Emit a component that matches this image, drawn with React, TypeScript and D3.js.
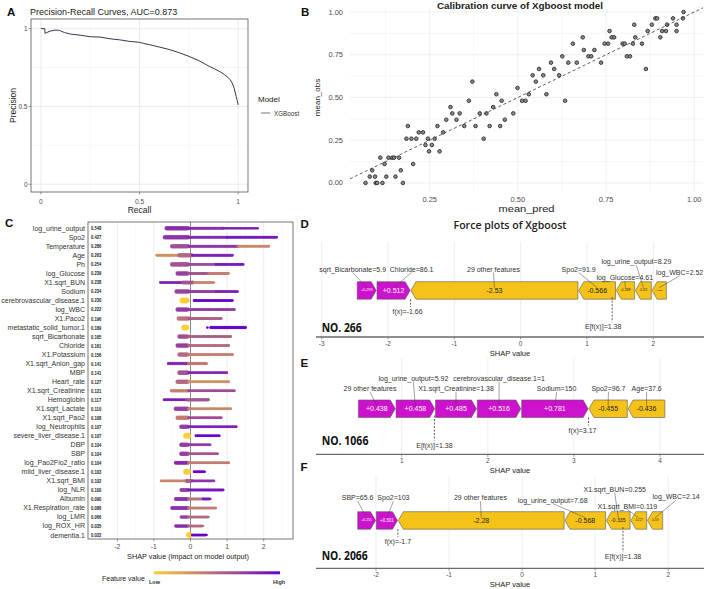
import React from "react";
import * as d3 from "d3";

const FONT = "'Liberation Sans', Arial, Helvetica, sans-serif";
const FONT_TITLE = "'Open Sans', 'Noto Sans', sans-serif";

// ---------- Panel A: precision-recall ----------
const prRecall = [0, 0.02, 0.021, 0.03, 0.05, 0.07, 0.09, 0.1, 0.12, 0.15, 0.2, 0.25, 0.3, 0.35, 0.4, 0.45, 0.5, 0.52, 0.55, 0.6, 0.65, 0.7, 0.75, 0.8, 0.85, 0.88, 0.91, 0.93, 0.95, 0.96, 0.97, 0.98, 0.99, 0.995, 1.0];
const prPrecision = [1, 1, 0.97, 0.975, 0.985, 0.99, 0.99, 0.985, 0.975, 0.965, 0.958, 0.948, 0.946, 0.935, 0.928, 0.918, 0.912, 0.905, 0.897, 0.882, 0.866, 0.846, 0.822, 0.795, 0.76, 0.742, 0.722, 0.705, 0.685, 0.671, 0.65, 0.617, 0.563, 0.54, 0.51];
const prTicks = [0, 0.5, 1];
const prTickLabels = ["0", "0.5", "1"];
const prMinor = [0.25, 0.75];

// ---------- Panel B: calibration ----------
const calPred = [0.068, 0.097, 0.101, 0.116, 0.174, 0.08, 0.095, 0.127, 0.153, 0.087, 0.168, 0.122, 0.203, 0.11, 0.133, 0.144, 0.149, 0.163, 0.248, 0.278, 0.238, 0.256, 0.184, 0.198, 0.212, 0.245, 0.264, 0.403, 0.219, 0.231, 0.288, 0.188, 0.272, 0.348, 0.38, 0.42, 0.45, 0.297, 0.326, 0.463, 0.314, 0.335, 0.392, 0.411, 0.487, 0.309, 0.43, 0.361, 0.454, 0.512, 0.522, 0.634, 0.439, 0.531, 0.581, 0.499, 0.371, 0.551, 0.542, 0.572, 0.617, 0.56, 0.603, 0.863, 0.594, 0.643, 0.667, 0.736, 0.626, 0.7, 0.708, 0.809, 0.818, 0.687, 0.717, 0.656, 0.746, 0.756, 0.797, 0.803, 0.826, 0.852, 0.684, 0.766, 0.773, 0.833, 0.904, 0.76, 0.868, 0.909, 0.92, 0.95, 0.83, 0.88, 0.923, 0.95, 0.89, 0.895, 0.94, 0.968, 0.97];
const calObs = [0, 0, 0, 0, 0, 0.037, 0.037, 0.037, 0.037, 0.074, 0.074, 0.111, 0.111, 0.148, 0.148, 0.148, 0.148, 0.148, 0.185, 0.185, 0.222, 0.222, 0.259, 0.259, 0.259, 0.259, 0.259, 0.259, 0.296, 0.296, 0.296, 0.333, 0.333, 0.333, 0.333, 0.333, 0.333, 0.37, 0.37, 0.37, 0.407, 0.407, 0.407, 0.407, 0.407, 0.444, 0.444, 0.481, 0.481, 0.481, 0.481, 0.481, 0.519, 0.519, 0.519, 0.556, 0.593, 0.593, 0.63, 0.63, 0.63, 0.667, 0.667, 0.667, 0.704, 0.704, 0.704, 0.704, 0.741, 0.741, 0.741, 0.741, 0.741, 0.778, 0.778, 0.815, 0.815, 0.815, 0.815, 0.815, 0.815, 0.815, 0.852, 0.852, 0.852, 0.852, 0.852, 0.889, 0.889, 0.889, 0.889, 0.889, 0.926, 0.926, 0.926, 0.926, 0.963, 0.963, 0.963, 0.963, 1.0];
const calYTicks = [0, 0.25, 0.5, 0.75, 1];
const calYLabels = ["0.00", "0.25", "0.50", "0.75", "1.00"];
const calXTicks = [0.25, 0.5, 0.75, 1];
const calXLabels = ["0.25", "0.50", "0.75", "1.00"];

// ---------- Panel C: SHAP summary ----------
const shapFeatures = ["log_urine_output", "Spo2", "Temperature", "Age", "Ph", "log_Glucose", "X1.sqrt_BUN", "Sodium", "cerebrovascular_disease.1", "log_WBC", "X1.Paco2", "metastatic_solid_tumor.1", "sqrt_Bicarbonate", "Chloride", "X1.Potassium", "X1.sqrt_Anion_gap", "MBP", "Heart_rate", "X1.sqrt_Creatinine", "Hemoglobin", "X1.sqrt_Lactate", "X1.sqrt_Pao2", "log_Neutrophils", "severe_liver_disease.1", "DBP", "SBP", "log_Pao2Fio2_ratio", "mild_liver_disease.1", "X1.sqrt_BMI", "log_NLR", "Albumin", "X1.Respiration_rate", "log_LMR", "log_ROX_HR", "dementia.1"];
const shapImportance = ["0.548", "0.427", "0.286", "0.263", "0.254", "0.239", "0.238", "0.234", "0.230", "0.222", "0.196", "0.189", "0.165", "0.161", "0.156", "0.141", "0.141", "0.127", "0.121", "0.117", "0.110", "0.108", "0.107", "0.107", "0.104", "0.104", "0.104", "0.103", "0.102", "0.100", "0.090", "0.086", "0.066", "0.035", "0.022"];
// each run of points: [shap from, shap to, feature value (0 low - 1 high), density]
const shapSegments: number[][][] = [
  [[-0.65, -0.05, 0.78, 0.67], [-0.05, 0.9, 0.8, 0.33], [0.9, 1.85, 0.88, 0.22]],
  [[-0.7, -0.05, 0.75, 0.67], [-0.05, 1.0, 0.82, 0.33], [1.0, 2.35, 0.9, 0.33]],
  [[-0.5, -0.05, 0.62, 0.67], [-0.05, 1.3, 0.75, 0.33], [1.3, 2.15, 0.35, 0.33]],
  [[-0.92, -0.3, 0.3, 0.33], [-0.3, 0.05, 0.5, 0.67], [0.05, 1.15, 0.85, 0.33]],
  [[-0.5, -0.05, 0.6, 0.67], [-0.05, 0.7, 0.65, 0.33], [0.7, 1.45, 0.9, 0.33]],
  [[-0.35, -0.05, 0.7, 0.67], [-0.05, 0.5, 0.6, 0.33], [0.5, 1.05, 0.4, 0.33]],
  [[-0.82, -0.2, 0.82, 0.33], [-0.2, 0.1, 0.6, 0.56], [0.1, 0.65, 0.35, 0.33]],
  [[-0.38, -0.05, 0.68, 0.67], [-0.05, 0.7, 0.72, 0.33], [0.7, 1.3, 0.85, 0.33]],
  [[-0.22, -0.08, 0, 1], [0.1, 1.15, 1, 0.33]],
  [[-0.35, -0.05, 0.72, 0.67], [-0.05, 1.2, 0.72, 0.33]],
  [[-0.32, -0.05, 0.45, 0.67], [-0.05, 0.85, 0.55, 0.33]],
  [[-0.17, -0.1, 0, 1], [0.46, 0.47, 1, 0.22], [0.56, 1.5, 1, 0.44]],
  [[-0.3, -0.05, 0.62, 0.67], [-0.05, 1.1, 0.55, 0.33]],
  [[-0.35, -0.05, 0.7, 0.67], [-0.05, 1.05, 0.5, 0.33]],
  [[-0.3, -0.05, 0.5, 0.67], [-0.05, 1.15, 0.38, 0.33]],
  [[-0.6, -0.05, 0.8, 0.44], [-0.05, 0.45, 0.42, 0.44]],
  [[-0.3, -0.05, 0.6, 0.67], [-0.05, 1.0, 0.8, 0.33]],
  [[-0.35, -0.05, 0.5, 0.67], [-0.05, 1.05, 0.3, 0.33]],
  [[-0.52, -0.05, 0.38, 0.44], [-0.05, 1.2, 0.65, 0.33]],
  [[-0.72, -0.1, 0.88, 0.33], [-0.1, 0.5, 0.6, 0.44]],
  [[-0.4, -0.05, 0.7, 0.67], [-0.05, 1.1, 0.35, 0.33]],
  [[-0.35, -0.05, 0.4, 0.67], [-0.05, 0.85, 0.65, 0.33]],
  [[-0.25, -0.05, 0.7, 0.67], [-0.05, 1.25, 0.85, 0.33]],
  [[-0.12, -0.06, 0, 1], [0.15, 0.8, 1, 0.33]],
  [[-0.25, -0.05, 0.7, 0.67], [-0.05, 0.55, 0.72, 0.33]],
  [[-0.25, -0.05, 0.7, 0.67], [-0.05, 0.75, 0.6, 0.33]],
  [[-0.4, -0.05, 0.8, 0.56], [-0.05, 1.05, 0.4, 0.33]],
  [[-0.12, -0.06, 0, 1], [0.1, 0.4, 1, 0.33]],
  [[-0.8, -0.1, 0.35, 0.33], [-0.1, 0.05, 0.55, 0.56], [0.05, 0.65, 0.75, 0.33]],
  [[-0.25, -0.05, 0.7, 0.56], [-0.05, 0.9, 0.9, 0.33]],
  [[-0.4, -0.05, 0.75, 0.56], [-0.05, 0.35, 0.45, 0.33], [0.35, 0.55, 0.9, 0.33]],
  [[-0.5, -0.05, 0.75, 0.56], [-0.05, 0.7, 0.4, 0.33]],
  [[-0.25, -0.05, 0.7, 0.44], [-0.05, 0.5, 0.5, 0.33]],
  [[-0.4, -0.05, 0.8, 0.44], [-0.05, 0.35, 0.5, 0.33]],
  [[-0.04, 0.0, 0, 1], [0.05, 0.45, 1, 0.33]],
];
const shapTicks = [-2, -1, 0, 1, 2];
const shapMinor = [-2.5, -1.5, -0.5, 0.5, 1.5, 2.5];

// ---------- Panels D/E/F: force plots ----------
const dFeatures = ["sqrt_Bicarbonate=5.9", "Chloride=86.1", "29 other features", "Spo2=91.9", "log_Glucose=4.61", "log_urine_output=8.29", "log_WBC=2.52"];
const dShap = [0.299, 0.512, -2.53, -0.566, -0.288, -0.252, -0.227];
const dFx = -1.66;
const dBase = 1.38;
const dTicks = [-3, -2, -1, 0, 1, 2];

const eFeatures = ["29 other features", "log_urine_output=5.92", "X1.sqrt_Creatinine=1.38", "cerebrovascular_disease.1=1", "Sodium=150", "Spo2=96.7", "Age=37.6"];
const eShap = [0.438, 0.458, 0.485, 0.516, 0.781, -0.455, -0.436];
const eFx = 3.17;
const eBase = 1.38;
const eTicks = [1, 2, 3, 4];

const fFeatures = ["SBP=65.6", "Spo2=103", "29 other features", "log_urine_output=7.68", "X1.sqrt_BUN=0.255", "X1.sqrt_BMI=0.119", "log_WBC=2.14"];
const fShap = [0.255, 0.301, -2.28, -0.568, -0.335, -0.227, -0.219];
const fFx = -1.7;
const fBase = 1.38;
const fTicks = [-2, -1, 0, 1, 2];

// label placement (pixel nudges relative to each bar: [dx, dy from bar top])
const dNudge = [[-14, -12.7], [18, -12.7], [-1, -12.7], [-18.5, -12.7], [-0.7, -4.2], [-7, -20], [20.4, -9.4]];
const eNudge = [[-6.8, -11.7], [-2, -21.7], [0, -11.7], [0, -21.7], [1.7, -11.7], [0.3, -11.7], [0.2, -11.7]];
const fNudge = [[-9, -14], [6.5, -14], [-0.8, -14], [-32.6, -11.7], [-3.5, -22.4], [-11.5, -5.5], [21, -15]];

const lowColor = "#FFCC33";
const highColor = "#6600CC";
const MAGENTA = "#CC12CC";
const YELLOW = "#F4C218";

function PanelA() {
  const x = d3.scaleLinear().domain([-0.05, 1.05]).range([31, 248]);
  const y = d3.scaleLinear().domain([-0.05, 1.062]).range([192, 19]);
  const line = d3.line<number>().x((_, i) => x(prRecall[i])).y((p) => y(p));
  const curveColor = "#3e3352";
  return (
    <g fontFamily={FONT}>
      <text x={7} y={16} fontSize={11.5} fontWeight="bold" fill="#111">A</text>
      <text x={30} y={15} fontSize={9} fill="#222">Precision-Recall Curves, AUC=0.873</text>
      <rect x={31} y={19} width={217} height={173} fill="#fff" />
      {prMinor.map((t) => (
        <g key={"m" + t}>
          <line x1={x(t)} x2={x(t)} y1={19} y2={192} stroke="#f0f0f0" strokeWidth={0.5} />
          <line x1={31} x2={248} y1={y(t)} y2={y(t)} stroke="#f0f0f0" strokeWidth={0.5} />
        </g>
      ))}
      {prTicks.map((t) => (
        <g key={"M" + t}>
          <line x1={x(t)} x2={x(t)} y1={19} y2={192} stroke="#e6e6e6" strokeWidth={0.8} />
          <line x1={31} x2={248} y1={y(t)} y2={y(t)} stroke="#e6e6e6" strokeWidth={0.8} />
        </g>
      ))}
      <path d={line(prPrecision) || ""} fill="none" stroke={curveColor} strokeWidth={1} />
      <rect x={31} y={19} width={217} height={173} fill="none" stroke="#555" strokeWidth={0.8} />
      {prTicks.map((t, i) => (
        <g key={"t" + t} fontSize={6.5} fill="#4d4d4d">
          <line x1={x(t)} x2={x(t)} y1={192} y2={194.5} stroke="#555" strokeWidth={0.6} />
          <text x={x(t)} y={201.5} textAnchor="middle" dominantBaseline="central">{prTickLabels[i]}</text>
          <line x1={28.5} x2={31} y1={y(t)} y2={y(t)} stroke="#555" strokeWidth={0.6} />
          <text x={27.5} y={y(t)} textAnchor="end" dominantBaseline="central">{prTickLabels[i]}</text>
        </g>
      ))}
      <text x={139.5} y={210} fontSize={8.5} textAnchor="middle" dominantBaseline="central" fill="#222">Recall</text>
      <text transform="translate(13.3,105.5) rotate(-90)" fontSize={8.5} textAnchor="middle" dominantBaseline="central" fill="#222">Precision</text>
      <text x={258} y={99} fontSize={8} dominantBaseline="central" fill="#222">Model</text>
      <line x1={261} x2={270} y1={113} y2={113} stroke="#7b6f8e" strokeWidth={1} />
      <text x={274} y={113} fontSize={6.3} dominantBaseline="central" fill="#333">XGBoost</text>
    </g>
  );
}

function PanelB() {
  const x = d3.scaleLinear().domain([0.024, 1.025]).range([350, 703]);
  const y = d3.scaleLinear().domain([-0.05, 1.05]).range([191.5, 3.5]);
  const gridX = d3.range(1, 9).map((i) => i * 0.125);
  const gridY = d3.range(0, 9).map((i) => i * 0.125);
  const top = 8;
  return (
    <g fontFamily={FONT}>
      <text x={301} y={16} fontSize={11.5} fontWeight="bold" fill="#111">B</text>
      <text x={520} y={5.5} fontSize={8.5} fontWeight="bold" textAnchor="middle" dominantBaseline="central" textLength={166} lengthAdjust="spacingAndGlyphs" fill="#222">Calibration curve of Xgboost model</text>
      {gridX.map((t, i) => (
        <line key={"gx" + i} x1={x(t)} x2={x(t)} y1={top} y2={191.5} stroke="#ebebeb" strokeWidth={i % 2 === 1 ? 0.8 : 0.45} />
      ))}
      {gridY.map((t, i) => (
        <line key={"gy" + i} x1={350} x2={703} y1={y(t)} y2={y(t)} stroke="#ebebeb" strokeWidth={i % 2 === 0 ? 0.8 : 0.45} />
      ))}
      {calPred.map((p, i) => (
        <circle key={"pt" + i} cx={x(p)} cy={y(calObs[i])} r={1.8} fill="#8c8c8c" stroke="#2a2a2a" strokeWidth={0.9} />
      ))}
      <line x1={x(0.024)} y1={y(0.024)} x2={x(1.025)} y2={y(1.025)} stroke="#333" strokeWidth={0.8} strokeDasharray="3,2.5" />
      {calYTicks.map((t, i) => (
        <text key={"yl" + t} x={343} y={y(t)} fontSize={7.5} textAnchor="end" dominantBaseline="central" fill="#4d4d4d">{calYLabels[i]}</text>
      ))}
      {calXTicks.map((t, i) => (
        <text key={"xl" + t} x={x(t)} y={199} fontSize={7.5} textAnchor="middle" dominantBaseline="central" fill="#4d4d4d">{calXLabels[i]}</text>
      ))}
      <text x={526.5} y={208} fontSize={9.5} textAnchor="middle" dominantBaseline="central" textLength={56} lengthAdjust="spacingAndGlyphs" fill="#222">mean_pred</text>
      <text transform="translate(317,97.5) rotate(-90)" fontSize={8} textAnchor="middle" dominantBaseline="central" fill="#222">mean_obs</text>
    </g>
  );
}

function PanelC() {
  const x = d3.scaleLinear().domain([-2.8, 2.8]).range([88, 293]);
  const y = d3.scalePoint<string>().domain(shapFeatures).range([228.3, 535]);
  const color = d3.scaleLinear<string>().domain([0, 1]).range([lowColor, highColor]).interpolate(d3.interpolateRgb);
  return (
    <g fontFamily={FONT}>
      <defs>
        <linearGradient id="fvgrad" x1="0" x2="1" y1="0" y2="0">
          <stop offset="0" stopColor={lowColor} />
          <stop offset="1" stopColor={highColor} />
        </linearGradient>
      </defs>
      <text x={5} y={227} fontSize={11.5} fontWeight="bold" fill="#111">C</text>
      <rect x={88} y={222} width={205} height={317} fill="#fff" />
      {shapMinor.map((t) => (
        <line key={"mn" + t} x1={x(t)} x2={x(t)} y1={222} y2={539} stroke="#f0f0f0" strokeWidth={0.5} />
      ))}
      {shapTicks.map((t) => (
        <line key={"mj" + t} x1={x(t)} x2={x(t)} y1={222} y2={539} stroke="#e8e8e8" strokeWidth={0.8} />
      ))}
      <line x1={x(0)} x2={x(0)} y1={222} y2={539} stroke="#8a8a8a" strokeWidth={1} />
      {shapSegments.map((row, i) =>
        row.map(([a, b, c, d], j) => {
          const yy = y(shapFeatures[i]) as number;
          const w = 1.5 + 4.5 * d;
          return (
            <g key={i + "-" + j}>
              <line x1={x(a)} x2={x(b)} y1={yy} y2={yy} stroke={color(c)} strokeWidth={w * 0.7} strokeLinecap="round" opacity={0.9} />
              <line x1={x(a)} x2={x(b)} y1={yy} y2={yy} stroke={color(c)} strokeWidth={w} strokeLinecap="round" strokeDasharray="0,1.9" opacity={0.9} />
            </g>
          );
        })
      )}
      {shapFeatures.map((f, i) => (
        <g key={"lab" + f}>
          <text x={85} y={y(f)} fontSize={7} textAnchor="end" dominantBaseline="central" fill="#333">{f}</text>
          <text x={91} y={y(f)} fontSize={5.6} fontWeight="bold" dominantBaseline="central" fill="#222" textLength={10.3} lengthAdjust="spacingAndGlyphs">{shapImportance[i]}</text>
        </g>
      ))}
      <rect x={88} y={222} width={205} height={317} fill="none" stroke="#555" strokeWidth={0.8} />
      {shapTicks.map((t) => (
        <g key={"tk" + t}>
          <line x1={x(t)} x2={x(t)} y1={539} y2={541.5} stroke="#555" strokeWidth={0.6} />
          <text x={x(t)} y={546.7} fontSize={6.8} textAnchor="middle" dominantBaseline="central" fill="#4d4d4d">{String(t)}</text>
        </g>
      ))}
      <text x={188} y={556} fontSize={7.3} textAnchor="middle" dominantBaseline="central" fill="#222">SHAP value (impact on model output)</text>
      <text x={102} y={578} fontSize={7} dominantBaseline="central" fill="#222">Feature value</text>
      <rect x={154} y={571.3} width={126} height={3} fill="url(#fvgrad)" />
      <text x={149} y={581.7} fontSize={5.5} fontWeight="bold" dominantBaseline="central" fill="#333">Low</text>
      <text x={273} y={581.7} fontSize={5.5} fontWeight="bold" dominantBaseline="central" fill="#333">High</text>
    </g>
  );
}

type FP = {
  letter: string; letterY: number;
  features: string[]; shap: number[]; fx: number; base: number;
  domain: [number, number]; range: [number, number]; ticks: number[];
  barTop: number; gridTop: number; axisY: number;
  nudge: number[][]; caseLabel: string; caseY: number; caseWidth: number;
  fxDx: number; baseDx: number;
};

function ForcePlot(p: FP) {
  const x = d3.scaleLinear().domain(p.domain).range(p.range);
  const barH = 17.5;
  const head = 5;
  const top = p.barTop;
  const bottom = top + barH;
  const mid = top + barH / 2;
  let cursor = p.fx - d3.sum(p.shap.filter((v) => v > 0));
  const bars = p.shap.map((v) => {
    const s = cursor;
    const e = cursor + Math.abs(v);
    cursor = e;
    const x0 = x(s) + 0.4;
    const x1 = x(e) - 0.4;
    const pts = v > 0
      ? [[x0, top], [x1 - head, top], [x1, mid], [x1 - head, bottom], [x0, bottom]]
      : [[x0, mid], [x0 + head, top], [x1, top], [x1, bottom], [x0 + head, bottom]];
    const txt = (v > 0 ? "+" : "") + String(v);
    const fs = Math.min(7, (x1 - x0 - head - 2) / (txt.length * 0.53));
    return { v, x0, x1, cx: (x0 + x1) / 2, pts, txt, fs };
  });
  const xfx = x(p.fx);
  const xb = x(p.base);
  return (
    <g fontFamily={FONT}>
      <text x={300.5} y={p.letterY} fontSize={11.5} fontWeight="bold" fill="#111">{p.letter}</text>
      {p.ticks.map((t) => (
        <line key={"g" + t} x1={x(t)} x2={x(t)} y1={p.gridTop} y2={p.axisY} stroke="#e6e6e6" strokeWidth={0.7} />
      ))}
      {bars.map((b, i) => (
        <g key={"b" + i}>
          <polygon points={b.pts.map((q) => q.join(",")).join(" ")} fill={b.v > 0 ? MAGENTA : YELLOW} stroke="#595959" strokeWidth={0.6} />
          <text x={b.cx} y={mid} fontSize={b.fs} textAnchor="middle" dominantBaseline="central" fill={b.v > 0 ? "#fff" : "#222"}>{b.txt}</text>
        </g>
      ))}
      {bars.map((b, i) => {
        const lx = b.cx + p.nudge[i][0];
        const ly = top + p.nudge[i][1];
        return (
          <g key={"l" + i}>
            <line x1={lx} y1={ly + 3.5} x2={b.cx} y2={top + 6} stroke="#444" strokeWidth={0.5} />
            <text x={lx} y={ly} fontSize={7} textAnchor="middle" dominantBaseline="central" fill="#333">{p.features[i]}</text>
          </g>
        );
      })}
      <line x1={xfx} x2={xfx} y1={bottom} y2={bottom + 8} stroke="#333" strokeWidth={0.8} strokeDasharray="2,1.5" />
      <text x={xfx + p.fxDx} y={bottom + 12.6} fontSize={7} textAnchor="middle" dominantBaseline="central" fill="#333">{"f(x)=" + p.fx}</text>
      <line x1={xb} x2={xb} y1={bottom - 2} y2={bottom + 23} stroke="#333" strokeWidth={0.8} strokeDasharray="2,1.5" />
      <text x={xb + p.baseDx} y={bottom + 27.6} fontSize={7} textAnchor="middle" dominantBaseline="central" fill="#333">{"E[f(x)]=" + p.base}</text>
      <text x={321.7} y={p.caseY} fontSize={13} fontWeight="bold" fontFamily={FONT_TITLE} dominantBaseline="central" textLength={p.caseWidth} lengthAdjust="spacingAndGlyphs" fill="#111">{p.caseLabel}</text>
      <line x1={316} x2={704} y1={p.axisY} y2={p.axisY} stroke="#6b6b6b" strokeWidth={1.3} />
      {p.ticks.map((t) => (
        <g key={"t" + t}>
          <line x1={x(t)} x2={x(t)} y1={p.axisY} y2={p.axisY + 2.5} stroke="#6b6b6b" strokeWidth={0.7} />
          <text x={x(t)} y={p.axisY + 6.5} fontSize={6.5} textAnchor="middle" dominantBaseline="central" fill="#4d4d4d">{String(t)}</text>
        </g>
      ))}
      <text x={510} y={p.axisY + 16.5} fontSize={7.5} textAnchor="middle" dominantBaseline="central" fill="#222">SHAP value</text>
    </g>
  );
}

export default function App() {
  return (
    <svg width={708} height={589} viewBox="0 0 708 589" style={{ position: "absolute", left: 0, top: 0, display: "block", background: "#fff" }}>
      <rect x={0} y={0} width={708} height={589} fill="#fff" />
      <PanelA />
      <PanelB />
      <PanelC />
      <text x={510} y={224.5} fontSize={11.5} fontWeight={600} fontFamily={FONT_TITLE} textAnchor="middle" dominantBaseline="central" textLength={113} lengthAdjust="spacingAndGlyphs" fill="#222">Force plots of Xgboost</text>
      <ForcePlot letter="D" letterY={228} features={dFeatures} shap={dShap} fx={dFx} base={dBase}
        domain={[-3, 2]} range={[321.7, 653.3]} ticks={dTicks} barTop={281.7} gridTop={242} axisY={337}
        nudge={dNudge} caseLabel="NO. 266" caseY={326.7} caseWidth={40} fxDx={-3} baseDx={-9} />
      <ForcePlot letter="E" letterY={366.7} features={eFeatures} shap={eShap} fx={eFx} base={eBase}
        domain={[1, 4]} range={[401.7, 660]} ticks={eTicks} barTop={400} gridTop={358} axisY={454.3}
        nudge={eNudge} caseLabel="NO. 1066" caseY={440} caseWidth={46.7} fxDx={-6} baseDx={0} />
      <ForcePlot letter="F" letterY={471} features={fFeatures} shap={fShap} fx={fFx} base={fBase}
        domain={[-2, 2]} range={[376, 668.3]} ticks={fTicks} barTop={511.7} gridTop={476} axisY={568.3}
        nudge={fNudge} caseLabel="NO. 2066" caseY={555} caseWidth={46} fxDx={0} baseDx={0} />
    </svg>
  );
}
